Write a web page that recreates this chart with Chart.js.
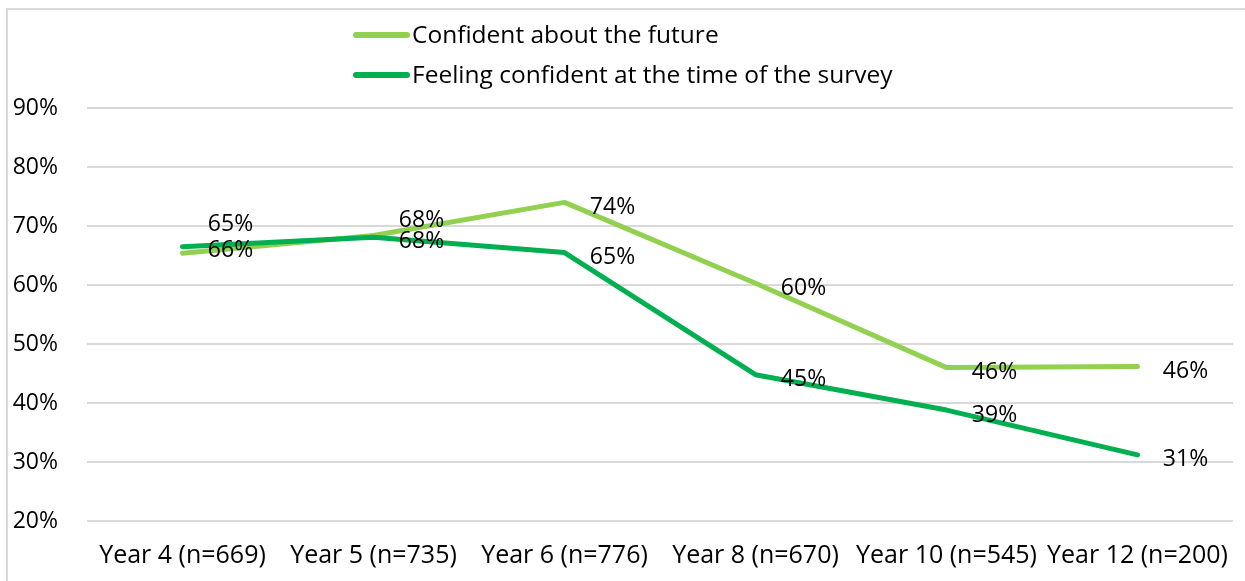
<!DOCTYPE html>
<html>
<head>
<meta charset="utf-8">
<script src="https://cdn.jsdelivr.net/npm/chart.js@4.4.1/dist/chart.umd.min.js"></script>
<style>
  html, body { margin: 0; padding: 0; background: #fff; }
  #wrap { position: relative; width: 1245px; height: 581px; overflow: hidden; }
  #frame { position: absolute; left: 6px; top: 8px; width: 1300px; height: 700px;
           border-left: 2px solid #d9d9d9; border-top: 2px solid #d9d9d9; }
  canvas { position: absolute; left: 0; top: 0; }
</style>
</head>
<body>
<div id="wrap">
  <div id="frame"></div>
  <canvas id="chart" width="1245" height="581"></canvas>
</div>
<script>
const years = ['Year 4 (n=669)', 'Year 5 (n=735)', 'Year 6 (n=776)', 'Year 8 (n=670)', 'Year 10 (n=545)', 'Year 12 (n=200)'];
const futureValues = [65.4, 68.4, 74.0, 60.3, 46.0, 46.2];
const futureLabels = ['65%', '68%', '74%', '60%', '46%', '46%'];
const surveyValues = [66.5, 68.1, 65.5, 44.8, 38.8, 31.2];
const surveyLabels = ['66%', '68%', '65%', '45%', '39%', '31%'];
const yMin = 20;
const yMax = 90;
const yStep = 10;

const FONT = "'Open Sans', sans-serif";
const lightGreen = '#92d050';
const darkGreen = '#00b050';

// labels sit right of each point; a few were nudged up in the original
const labelNudge = [
    [-34, -20, 0, 0, 0, 0],
    [-1, -1, 0, 0, 0, 0]
];

const pointLabels = {
    id: 'pointLabels',
    afterDatasetsDraw(chart) {
        const ctx = chart.ctx;
        ctx.save();
        ctx.font = '23px ' + FONT;
        ctx.fillStyle = '#000';
        ctx.textAlign = 'center';
        ctx.textBaseline = 'middle';
        chart.data.datasets.forEach((ds, i) => {
            const meta = chart.getDatasetMeta(i);
            meta.data.forEach((pt, j) => {
                ctx.fillText(ds.valueLabels[j], pt.x + 48, pt.y + 5 + labelNudge[i][j]);
            });
        });
        ctx.restore();
    }
};

const sideLegend = {
    id: 'sideLegend',
    afterDraw(chart) {
        const ctx = chart.ctx;
        ctx.save();
        ctx.font = '24.5px ' + FONT;
        ctx.fillStyle = '#000';
        ctx.textAlign = 'left';
        ctx.textBaseline = 'middle';
        chart.data.datasets.forEach((ds, i) => {
            const y = 35 + i * 40;
            ctx.strokeStyle = ds.borderColor;
            ctx.lineWidth = 6;
            ctx.lineCap = 'round';
            ctx.beginPath();
            ctx.moveTo(356, y);
            ctx.lineTo(407, y);
            ctx.stroke();
            ctx.fillText(ds.label, 412, y + 1);
        });
        ctx.restore();
    }
};

new Chart(document.getElementById('chart'), {
    type: 'line',
    data: {
        labels: years,
        datasets: [
            {
                label: 'Confident about the future',
                data: futureValues,
                valueLabels: futureLabels,
                borderColor: lightGreen,
                backgroundColor: lightGreen,
                borderWidth: 5,
                pointRadius: 0,
                borderCapStyle: 'round',
                borderJoinStyle: 'round',
                order: 2
            },
            {
                label: 'Feeling confident at the time of the survey',
                data: surveyValues,
                valueLabels: surveyLabels,
                borderColor: darkGreen,
                backgroundColor: darkGreen,
                borderWidth: 5,
                pointRadius: 0,
                borderCapStyle: 'round',
                borderJoinStyle: 'round',
                order: 1
            }
        ]
    },
    options: {
        responsive: false,
        animation: false,
        layout: { padding: { top: 108, left: 12, right: 12, bottom: 12 } },
        plugins: {
            legend: { display: false },
            tooltip: { enabled: false }
        },
        scales: {
            x: {
                offset: true,
                grid: { display: false, drawTicks: false },
                border: { display: false },
                ticks: {
                    color: '#000',
                    font: { family: FONT, size: 25 },
                    padding: 20,
                    maxRotation: 0,
                    autoSkip: false
                },
                afterFit: s => {
                    s.height = 48;
                    s.paddingLeft = 0;
                    s.paddingRight = 0;
                }
            },
            y: {
                min: yMin,
                max: yMax,
                grid: { color: '#d9d9d9', lineWidth: 2, drawTicks: false },
                border: { display: false },
                ticks: {
                    stepSize: yStep,
                    color: '#000',
                    font: { family: FONT, size: 23 },
                    padding: 29,
                    callback: v => v + '%'
                },
                afterFit: s => {
                    s.width = 75;
                    s.paddingTop = 0;
                    s.paddingBottom = 0;
                }
            }
        }
    },
    plugins: [pointLabels, sideLegend]
});
</script>
</body>
</html>
